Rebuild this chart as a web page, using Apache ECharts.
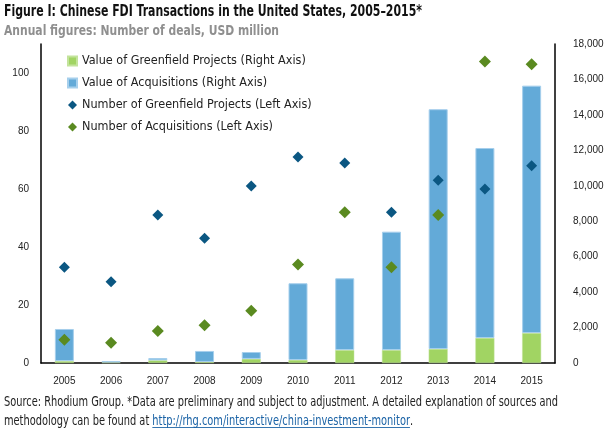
<!DOCTYPE html>
<html>
<head>
<meta charset="utf-8">
<script src="https://cdn.jsdelivr.net/npm/echarts@6/dist/echarts.min.js"></script>
<style>
html,body{margin:0;padding:0;background:#fff;}
#chart{width:608px;height:428px;}
</style>
</head>
<body>
<div id="chart"></div>
<script>
// ---- data ----
const years = ['2005','2006','2007','2008','2009','2010','2011','2012','2013','2014','2015'];
const greenfieldValue = [110, 30, 150, 60, 230, 170, 730, 730, 790, 1410, 1690];      // USD million, right axis
const acquisitionValue = [1810, 80, 130, 620, 390, 4330, 4050, 6680, 13530, 10720, 13960]; // USD million, right axis
const greenfieldCount = [33, 28, 51, 43, 61, 71, 69, 52, 63, 60, 68];   // deals, left axis
const acquisitionCount = [8, 7, 11, 13, 18, 34, 52, 33, 51, 104, 103];  // deals, left axis
const seriesNames = [
  'Value of Greenfield Projects (Right Axis)',
  'Value of Acquisitions (Right Axis)',
  'Number of Greenfield Projects (Left Axis)',
  'Number of Acquisitions (Left Axis)'
];
const titleText = 'Figure I: Chinese FDI Transactions in the United States, 2005\u20132015*';
const subtitleText = 'Annual figures: Number of deals, USD million';
const footer1 = 'Source: Rhodium Group. *Data are preliminary and subject to adjustment. A detailed explanation of sources and';
const footer2a = 'methodology can be found at ';
const footer2link = 'http://rhg.com/interactive/china-investment-monitor';
const footer2b = '.';

const NARROW = '"Liberation Sans Narrow", "DejaVu Sans Condensed", "Roboto Condensed", "Liberation Sans", sans-serif';
const AXISFONT = '"Liberation Sans", Arial, sans-serif';

const colGreenBar = '#a1d463';
const colBlueBar = '#63aad8';
const colBlueDia = '#0b5782';
const colGreenDia = '#5a8a20';
const linkColor = '#1b63a6';

const cv = document.createElement('canvas').getContext('2d');
function tw(txt, font){ cv.font = font; return cv.measureText(txt).width; }

const titleFont = 'bold 16px ' + NARROW;
const subFont = 'bold 14.5px ' + NARROW;
const footFont = '14px ' + NARROW;
// horizontal condensing so the text spans match the reference layout
const titleSX = 418 / tw(titleText, titleFont);
const subSX = 275 / tw(subtitleText, subFont);
const footSX = 554 / tw(footer1, footFont);
const wPrefix = tw(footer2a, footFont);
const linkW = tw(footer2link, footFont);

const chart = echarts.init(document.getElementById('chart'), null, {renderer:'canvas'});
chart.setOption({
  animation: false,
  grid: {left: 41, right: 53, top: 44, bottom: 65},
  legend: {
    orient: 'vertical', left: 67, top: 54, padding: 0, itemGap: 8,
    itemWidth: 9, itemHeight: 9,
    textStyle: {fontFamily: NARROW, fontSize: 12.5, lineHeight: 14, color: '#222'},
    data: [
      {name: seriesNames[0], icon: 'rect'},
      {name: seriesNames[1], icon: 'rect'},
      {name: seriesNames[2], icon: 'diamond'},
      {name: seriesNames[3], icon: 'diamond'}
    ]
  },
  xAxis: {
    type: 'category', data: years,
    axisLine: {lineStyle: {color: '#000', width: 1.5}},
    axisTick: {show: false},
    axisLabel: {color: '#222', fontSize: 10, fontFamily: AXISFONT, margin: 13}
  },
  yAxis: [
    {type: 'value', min: 0, max: 110, interval: 20, position: 'left',
     axisLine: {show: true, lineStyle: {color: '#000', width: 1.5}},
     axisTick: {show: false}, splitLine: {show: false},
     axisLabel: {showMaxLabel: false, color: '#222', fontSize: 10, fontFamily: AXISFONT, margin: 12}},
    {type: 'value', min: 0, max: 18000, interval: 2000, position: 'right',
     axisLine: {show: true, lineStyle: {color: '#000', width: 1.5}},
     axisTick: {show: false}, splitLine: {show: false},
     axisLabel: {color: '#222', fontSize: 10, fontFamily: AXISFONT, margin: 18}}
  ],
  series: [
    {name: seriesNames[0], type: 'bar', stack: 'v', yAxisIndex: 1, barWidth: 19, data: greenfieldValue,
     itemStyle: {color: colGreenBar, borderColor: '#c3e39c', borderWidth: 0.5}},
    {name: seriesNames[1], type: 'bar', stack: 'v', yAxisIndex: 1, barWidth: 19, data: acquisitionValue,
     itemStyle: {color: colBlueBar, borderColor: '#a6cfec', borderWidth: 1}},
    {name: seriesNames[2], type: 'scatter', yAxisIndex: 0, symbol: 'diamond', symbolSize: 11, data: greenfieldCount,
     itemStyle: {color: colBlueDia, opacity: 1}, z: 5},
    {name: seriesNames[3], type: 'scatter', yAxisIndex: 0, symbol: 'diamond', symbolSize: 12, data: acquisitionCount,
     itemStyle: {color: colGreenDia, opacity: 1}, z: 5}
  ],
  graphic: [
    {type: 'text', x: 4, y: 12, scaleX: titleSX, style: {text: titleText, font: titleFont, fill: '#111', verticalAlign: 'middle'}},
    {type: 'text', x: 4, y: 31, scaleX: subSX, style: {text: subtitleText, font: subFont, fill: '#8f8f8f', verticalAlign: 'middle'}},
    {type: 'text', x: 4, y: 402, scaleX: footSX, style: {text: footer1, font: footFont, fill: '#222', verticalAlign: 'middle'}},
    {type: 'group', x: 4, y: 421.5, scaleX: footSX, children: [
      {type: 'text', x: 0, y: 0, style: {text: footer2a, font: footFont, fill: '#222', verticalAlign: 'middle'}},
      {type: 'text', x: wPrefix, y: 0, style: {text: footer2link, font: footFont, fill: linkColor, verticalAlign: 'middle'}},
      {type: 'line', shape: {x1: wPrefix, y1: 6, x2: wPrefix + linkW, y2: 6}, style: {stroke: linkColor, lineWidth: 1}},
      {type: 'text', x: wPrefix + linkW, y: 0, style: {text: footer2b, font: footFont, fill: '#222', verticalAlign: 'middle'}}
    ]}
  ]
});
</script>
</body>
</html>
